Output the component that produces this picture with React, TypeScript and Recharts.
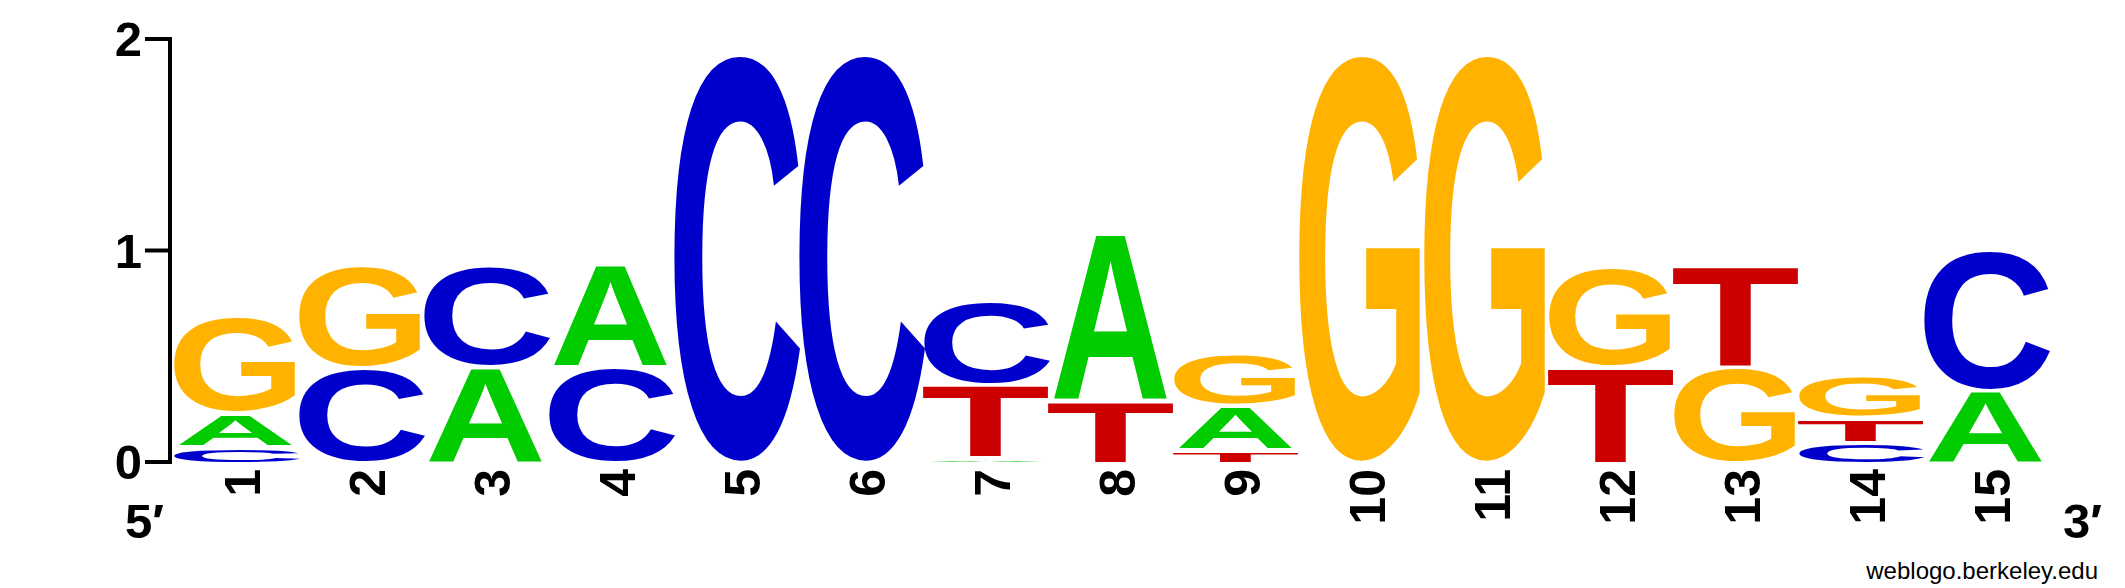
import React from "react";
import { BarChart, Bar, XAxis, YAxis } from "recharts";

const FONT = "'Liberation Sans', Arial, Helvetica, sans-serif";

// information content (bits) of each base at each position
const positions = ["1", "2", "3", "4", "5", "6", "7", "8", "9", "10", "11", "12", "13", "14", "15"];
const heightA = [0.159, 0, 0.435, 0.485, 0, 0, 0.005, 0.79, 0.21, 0, 0, 0, 0, 0, 0.323];
const heightC = [0.057, 0.43, 0.485, 0.435, 1.92, 1.92, 0.4, 0, 0, 0, 0, 0, 0, 0.079, 0.674];
const heightG = [0.465, 0.49, 0, 0, 0, 0, 0, 0, 0.255, 1.92, 1.92, 0.478, 0.435, 0.202, 0];
const heightT = [0, 0, 0, 0, 0, 0, 0.346, 0.28, 0.044, 0, 0, 0.435, 0.478, 0.119, 0];
const yTicks = [0, 1, 2];

const colors: Record<string, string> = {
  A: "#00CC00",
  C: "#0000CC",
  G: "#FFB300",
  T: "#CC0000",
};

// rough ink box of the bold glyphs (Liberation Sans Bold), in em
const glyph: Record<string, { x0: number; x1: number; y0: number; y1: number }> = {
  A: { x0: 0.0, x1: 0.722, y0: 0, y1: 0.688 },
  C: { x0: 0.044, x1: 0.674, y0: -0.012, y1: 0.7 },
  G: { x0: 0.045, x1: 0.723, y0: -0.012, y1: 0.7 },
  T: { x0: 0.02, x1: 0.591, y0: 0, y1: 0.688 },
};

const LAYERS = 4;

// smallest letter at the bottom, like weblogo does
const rows = positions.map((pos, i) => {
  const stack = [
    { letter: "A", h: heightA[i] },
    { letter: "C", h: heightC[i] },
    { letter: "G", h: heightG[i] },
    { letter: "T", h: heightT[i] },
  ]
    .filter((s) => s.h > 0)
    .sort((a, b) => a.h - b.h);
  const row: Record<string, number | string> = { pos };
  for (let k = 0; k < LAYERS; k++) {
    row["h" + k] = stack[k] ? stack[k].h : 0;
    row["l" + k] = stack[k] ? stack[k].letter : "";
  }
  return row;
});

function letterShape(layer: number) {
  return (props: any) => {
    const { x, y, width, height, payload } = props;
    const letter = payload && payload["l" + layer];
    if (!letter || !height || height <= 0) return <g />;
    const gap = layer > 0 ? Math.min(4.5, height * 0.4) : 0;
    const h = height - gap;
    const m = glyph[letter];
    const F = 100;
    const sx = width / ((m.x1 - m.x0) * F);
    const sy = h / ((m.y1 - m.y0) * F);
    const bottom = y + h;
    const tx = x - m.x0 * F * sx;
    const ty = bottom + m.y0 * F * sy;
    return (
      <text
        x={0}
        y={0}
        fontSize={F}
        fontWeight="bold"
        fontFamily={FONT}
        fill={colors[letter]}
        transform={`translate(${tx}, ${ty}) scale(${sx}, ${sy})`}
      >
        {letter}
      </text>
    );
  };
}

const ColumnTick = (props: any) => {
  const { x, payload } = props;
  const bx = x + 24;
  const by = 469;
  return (
    <text
      x={bx}
      y={by}
      transform={`rotate(-90, ${bx}, ${by})`}
      textAnchor="end"
      fontSize={50}
      fontWeight="bold"
      fontFamily={FONT}
      fill="#000"
    >
      {payload.value}
    </text>
  );
};

export default function App() {
  return (
    <div style={{ position: "absolute", left: 0, top: 0, width: 2125, height: 588, background: "#fff" }}>
      <BarChart
        width={2125}
        height={588}
        data={rows}
        margin={{ top: 39, right: 77, bottom: 0, left: 0 }}
        barCategoryGap={2}
      >
        <XAxis
          dataKey="pos"
          height={126}
          axisLine={false}
          tickLine={false}
          interval={0}
          padding={{ left: 3, right: 0 }}
          tick={<ColumnTick />}
        />
        <YAxis
          type="number"
          domain={[0, 2]}
          ticks={yTicks}
          width={170}
          tickSize={25}
          tickMargin={3}
          allowDataOverflow
          axisLine={{ stroke: "#000", strokeWidth: 4, strokeLinecap: "square" }}
          tickLine={{ stroke: "#000", strokeWidth: 4 }}
          tick={{ fill: "#000", fontSize: 49, fontWeight: "bold", fontFamily: FONT }}
        />
        {Array.from({ length: LAYERS }, (_, k) => (
          <Bar
            key={k}
            dataKey={"h" + k}
            stackId="logo"
            isAnimationActive={false}
            shape={letterShape(k)}
          />
        ))}
      </BarChart>
      <svg
        width={2125}
        height={588}
        style={{ position: "absolute", left: 0, top: 0, pointerEvents: "none" }}
      >
        <text x={125} y={538} fontSize={49} fontWeight="bold" fontFamily={FONT} fill="#000">
          5′
        </text>
        <text x={2063} y={538} fontSize={49} fontWeight="bold" fontFamily={FONT} fill="#000">
          3′
        </text>
        <text x={2098} y={579} fontSize={24} textAnchor="end" fontFamily={FONT} fill="#000">
          weblogo.berkeley.edu
        </text>
      </svg>
    </div>
  );
}
